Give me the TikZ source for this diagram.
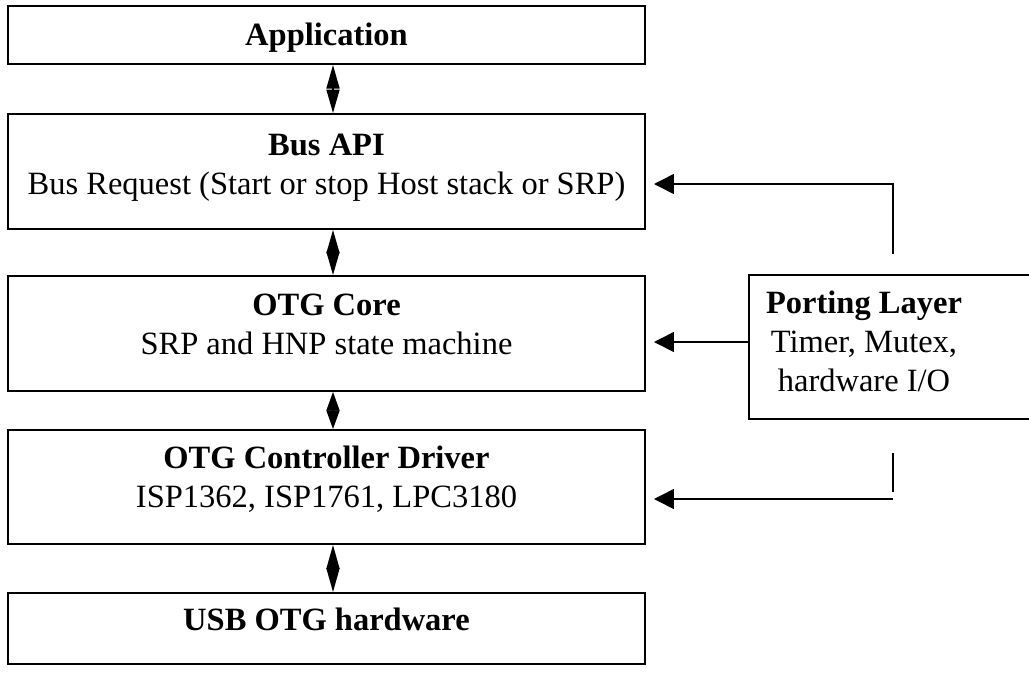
\documentclass[tikz,border=0pt]{standalone}
\usepackage{fontspec}
\setmainfont{Liberation Serif}
\usetikzlibrary{arrows.meta}

\begin{document}
\begin{tikzpicture}[x=0.02cm, y=-0.02cm,
		schicht/.style={draw, line width=1.1pt, rectangle, inner sep=0pt, minimum width=12.74cm},
		txt/.style={anchor=base, align=center, font=\fontsize{18.5}{22.1}\selectfont},
		doppel/.style={line width=0.9pt, {Triangle[length=#1, width=7.4pt]}-{Triangle[length=#1, width=7.4pt]}},
		pfeil/.style={line width=0.9pt, -{Triangle[length=11.3pt, width=11.3pt]}}]
		% Rahmen
		\useasboundingbox (0,0) rectangle (1029,677);
		\clip (0,0) rectangle (1029,677);

		% Schichten
		\node[schicht, minimum height=1.16cm] (app) at (326.5,35) {};
		\node[schicht, minimum height=2.3cm] (bus) at (326.5,171.5) {};
		\node[schicht, minimum height=2.3cm] (core) at (326.5,333.5) {};
		\node[schicht, minimum height=2.28cm] (drv) at (326.5,487) {};
		\node[schicht, minimum height=1.42cm] (usb) at (326.5,628.5) {};
		\node[schicht, minimum width=6.22cm, minimum height=2.88cm] (port) at (904.5,347) {};

		% Texte (Grundlinie der letzten Zeile)
		\node[txt] (appT) at (326.5,45) {\textbf{Application}};
		\node[txt] (busT) at (326.5,194) {\textbf{Bus API}\\Bus Request (Start or stop Host stack or SRP)};
		\node[txt] (coreT) at (326.5,354) {\textbf{OTG Core}\\SRP and HNP state machine};
		\node[txt] (drvT) at (326.5,507) {\textbf{OTG Controller Driver}\\ISP1362, ISP1761, LPC3180};
		\node[txt] (usbT) at (326.5,630) {\textbf{USB OTG hardware}};
		\node[txt] (portT) at (864,391) {\textbf{Porting Layer}\\Timer, Mutex,\\hardware I/O};

		% Koordinaten
		\coordinate (achse) at (333,0);
		\coordinate (busE) at (654,184);
		\coordinate (coreE) at (654,342);
		\coordinate (drvE) at (654,499);
		\coordinate (portN) at (893,254);
		\coordinate (portS) at (893,453);
		\coordinate (portSu) at (893,492);

		% Doppelpfeile
		\draw[doppel=13.4pt] (app.south -| achse) -- (bus.north -| achse);
		\draw[doppel=13.3pt] (bus.south -| achse) -- (core.north -| achse);
		\draw[doppel=10.6pt] (core.south -| achse) -- (drv.north -| achse);
		\draw[doppel=13.6pt] (drv.south -| achse) -- (usb.north -| achse);

		% Porting Layer
		\draw[pfeil] (portN) |- (busE);
		\draw[pfeil] (port.west |- coreE) -- (coreE);
		\draw[line width=0.9pt] (portS) -- (portSu);
		\draw[pfeil] (portS |- drvE) -- (drvE);
\end{tikzpicture}
\end{document}
